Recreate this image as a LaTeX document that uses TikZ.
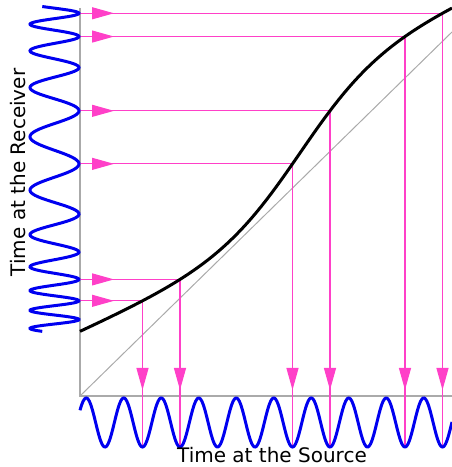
\documentclass[tikz,border=0pt]{standalone}
\usepackage{fontspec}
\newfontfamily\labelfont{DejaVu Sans}
\usetikzlibrary{arrows.meta, decorations.markings}
\definecolor{rayPink}{RGB}{255,64,200}
\definecolor{waveBlue}{RGB}{0,0,240}
\definecolor{axisGray}{RGB}{170,170,170}

\begin{document}
\begin{tikzpicture}[
    x=1pt, y=1pt,
    declare function={delayt(\tx)=99+0.45*\tx+160/(1+exp(-(\tx-300)/40));},
    axis/.style={draw=axisGray, line width=1.3pt},
    diag/.style={draw=axisGray, line width=1pt},
    ray/.style={draw=rayPink, line width=1.1pt, postaction={decorate},
        decoration={markings,
            mark=at position 34pt with {\arrow{Triangle[length=22pt, width=12pt]}},
            mark=at position -57pt with {\arrow{Triangle[length=22pt, width=12pt]}}}},
    wave/.style={draw=waveBlue, line width=3pt, smooth, samples=400},
    link/.style={draw=black, line width=3pt, smooth, samples=120},
    axlabel/.style={font=\labelfont\fontsize{20}{24}\selectfont, inner sep=0pt, anchor=base}
]
\useasboundingbox (0,0) rectangle (452,467);

% === Axes ===
\coordinate (O) at (80,71);
\coordinate (ytop) at (80,459);
\coordinate (xend) at (452,71);
\coordinate (dend) at (452,435);
\draw[axis] (ytop) -- (O) -- (xend);
\draw[diag] (O) -- (dend);

% === Rays: receiver time -> curve -> source time ===
\coordinate (c1) at (142.5,{delayt(142.5)});
\coordinate (c2) at (180,{delayt(180)});
\coordinate (c3) at (292.5,{delayt(292.5)});
\coordinate (c4) at (330,{delayt(330)});
\coordinate (c5) at (405,{delayt(405)});
\coordinate (c6) at (442.5,{delayt(442.5)});

\draw[ray] (O |- c1) -- (c1) -- (142.5,20);
\draw[ray] (O |- c2) -- (c2) -- (180,20);
\draw[ray] (O |- c3) -- (c3) -- (292.5,20);
\draw[ray] (O |- c4) -- (c4) -- (330,20);
\draw[ray] (O |- c5) -- (c5) -- (405,20);
\draw[ray] (O |- c6) -- (c6) -- (442.5,20);

% === Waves ===
% receiver (left), chirped by the delay curve
\draw[wave, variable=\tx, domain=80:455]
    plot ({54.5+24.5*cos(9.6*(\tx-105))}, {delayt(\tx)});
% source (bottom)
\draw[wave, domain=80:452] plot (\x, {44.5-24.5*cos(9.6*(\x-105))});

% === Delay curve ===
\draw[link, domain=80:452] plot (\x, {delayt(\x)});

% === Labels ===
\node[axlabel] (srclabel) at (272,4.5) {Time at the Source};
\node[axlabel, rotate=90] (rcvlabel) at (25,294.5) {Time at the Receiver};

\end{tikzpicture}
\end{document}
